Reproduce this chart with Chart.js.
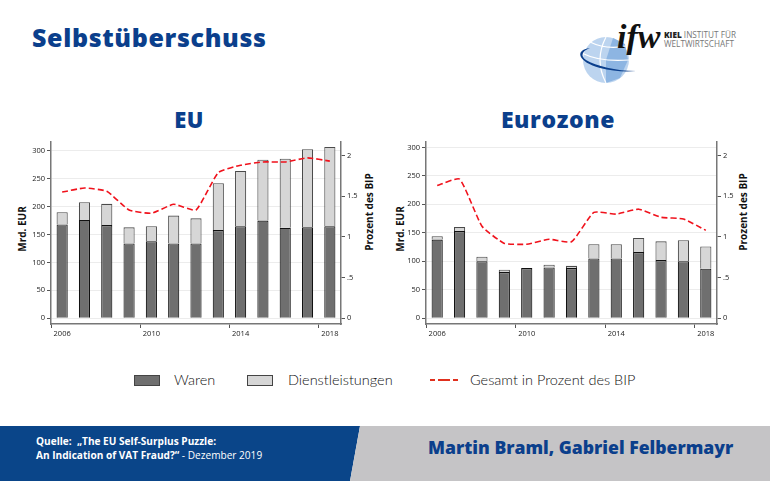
<!DOCTYPE html>
<html lang="de">
<head>
<meta charset="utf-8">
<title>Selbstüberschuss</title>
<script src="https://cdn.jsdelivr.net/npm/chart.js@4"></script>
<style>
    html, body { margin: 0; padding: 0; background: #fff; }
    body { position: relative; width: 770px; height: 481px; overflow: hidden; font-family: "Open Sans", sans-serif; }
    .abs { position: absolute; white-space: nowrap; }
    canvas.chart { position: absolute; }
    .heading { color: #0b3f8c; font-weight: 800; font-family: "Open Sans", sans-serif; }
    .axis-title { font-size: 10px; font-weight: 700; color: #111; transform: translate(-50%, -50%) rotate(-90deg); }
    .legend-text { font-family: Lato, sans-serif; font-size: 14.5px; font-weight: 300; color: #111; }
    .swatch { position: absolute; width: 24px; height: 9px; border: 1px solid #444; }
    #footer-blue { position: absolute; left: 0; top: 426px; width: 360px; height: 55px; background: #0a4589; clip-path: polygon(0 0, 100% 0, 350px 100%, 0 100%); }
    #footer-grey { position: absolute; left: 350px; top: 426px; width: 420px; height: 55px; background: #c5c4c6; clip-path: polygon(10px 0, 100% 0, 100% 100%, 0 100%); }
</style>
</head>
<body>
<div class="abs heading" style="left:32px;top:20px;font-size:25px;letter-spacing:.65px;">Selbstüberschuss</div>

<svg class="abs" style="left:570px;top:15px;" width="190" height="70" viewBox="570 15 190 70">
    <circle cx="606" cy="60" r="23" fill="#bcd4ef"/>
    <path d="M613 38 L625 44 L628 60 L620 78 L606 83 L606 60 Z" fill="#8db5e2"/>
    <path d="M584 54 Q600 62 629 60 M590 42 Q606 50 626 46 M606 37 Q594 60 606 83" stroke="#fff" stroke-width="1.2" fill="none"/>
    <path d="M590 48 C574 50 578 62 600 68 C612 71 624 72 636 71 C616 71 596 66 586 60 C580 56 582 51 590 48 Z" fill="#0b3f8c"/>
    <text x="617" y="48" font-family="'Liberation Serif'" font-style="italic" font-weight="700" font-size="34" fill="#111">ifw</text>
    <text x="664" y="38" font-family="'Open Sans'" font-size="8.2" fill="#777"><tspan font-weight="800" fill="#222">KIEL</tspan> INSTITUT FÜR</text>
    <text x="664" y="47" font-family="'Open Sans'" font-size="8.2" fill="#777">WELTWIRTSCHAFT</text>
</svg>

<div class="abs heading" style="left:189px;top:119px;font-size:22px;letter-spacing:.5px;transform:translate(-50%,-50%);">EU</div>
<div class="abs heading" style="left:558px;top:119px;font-size:23px;letter-spacing:.6px;transform:translate(-50%,-50%);">Eurozone</div>

<div class="abs axis-title" style="left:22px;top:229px;">Mrd. EUR</div>
<div class="abs axis-title" style="left:369px;top:212px;">Prozent des BIP</div>
<div class="abs axis-title" style="left:400px;top:229px;">Mrd. EUR</div>
<div class="abs axis-title" style="left:743px;top:212px;">Prozent des BIP</div>

<canvas class="chart" id="chartEU" style="left:0;top:132px;" width="385" height="210"></canvas>
<canvas class="chart" id="chartEZ" style="left:385px;top:132px;" width="385" height="210"></canvas>

<div class="swatch" style="left:134px;top:375px;background:#6f6f6f;"></div>
<div class="abs legend-text" style="left:174px;top:371px;">Waren</div>
<div class="swatch" style="left:247px;top:375px;background:#d6d6d6;"></div>
<div class="abs legend-text" style="left:288px;top:371px;">Dienstleistungen</div>
<svg class="abs" style="left:430px;top:376px;" width="32" height="8"><line x1="0" y1="4" x2="32" y2="4" stroke="#e0301e" stroke-width="2.2" stroke-dasharray="5 3 12 3 5"/></svg>
<div class="abs legend-text" style="left:470px;top:371px;">Gesamt in Prozent des BIP</div>

<div id="footer-blue"></div>
<div id="footer-grey"></div>
<div class="abs" style="left:36px;top:434px;font-size:10.1px;line-height:14px;color:#fff;">
    <b>Quelle:&nbsp; „The EU Self-Surplus Puzzle:</b><br>
    <b>An Indication of VAT Fraud?“</b> - Dezember 2019
</div>
<div class="abs heading" style="left:428px;top:435px;font-size:17.6px;font-weight:800;">Martin Braml, Gabriel Felbermayr</div>

<script>
const years = ["2006", "2007", "2008", "2009", "2010", "2011", "2012", "2013", "2014", "2015", "2016", "2017", "2018"];
const shownYears = ["2006", "2010", "2014", "2018"];

const euWaren = [168, 176, 167, 134, 138, 134, 134, 158, 165, 175, 162, 163, 165];
const euDienst = [22, 32, 38, 29, 27, 50, 45, 84, 99, 109, 124, 140, 142];
const euGesamt = [1.55, 1.60, 1.56, 1.33, 1.29, 1.40, 1.33, 1.79, 1.88, 1.92, 1.92, 1.97, 1.93];

const ezWaren = [138, 153, 100, 81, 88, 89, 88, 105, 105, 116, 102, 100, 87];
const ezDienst = [6, 7, 8, 4, 0, 5, 4, 25, 25, 25, 33, 37, 39];
const ezGesamt = [1.63, 1.71, 1.13, 0.92, 0.91, 0.97, 0.94, 1.30, 1.28, 1.34, 1.24, 1.22, 1.08];

const eurTicks = [0, 50, 100, 150, 200, 250, 300];
const bipTicks = [0, 0.5, 1, 1.5, 2];
const bipLabels = ["0", ".5", "1", "1.5", "2"];

const tickFont = { family: "'Open Sans'", size: 7.5 };

function renderChart(id, waren, dienst, gesamt, eurMax, leftWidth, rightWidth) {
    new Chart(document.getElementById(id), {
        type: "bar",
        data: {
            labels: years,
            datasets: [
                { label: "Gesamt in Prozent des BIP", type: "line", data: gesamt, yAxisID: "y1", order: 0,
                  borderColor: "#f0121c", borderWidth: 1.6, borderDash: [6, 3], pointRadius: 0, tension: 0.15 },
                { label: "Waren", data: waren, yAxisID: "y", order: 1, stack: "a",
                  backgroundColor: "#6f6f6f", borderColor: "#111", borderWidth: 1.1 },
                { label: "Dienstleistungen", data: dienst, yAxisID: "y", order: 1, stack: "a",
                  backgroundColor: "#d6d6d6", borderColor: "#4a4a4a", borderWidth: 1.1 }
            ]
        },
        options: {
            responsive: false,
            animation: false,
            layout: { padding: { top: 10, left: 0, right: 0, bottom: 0 } },
            plugins: { legend: { display: false }, tooltip: { enabled: false } },
            datasets: { bar: { barPercentage: 0.5, categoryPercentage: 1 } },
            scales: {
                x: {
                    stacked: true,
                    border: { color: "#777", width: 1.5 },
                    grid: {
                        drawOnChartArea: false,
                        tickLength: 4,
                        tickColor: ctx => shownYears.includes(years[ctx.index]) ? "#555" : "transparent"
                    },
                    ticks: {
                        autoSkip: false, maxRotation: 0, padding: 1, color: "#222", font: tickFont,
                        callback: (value, i) => shownYears.includes(years[i]) ? years[i] : ""
                    },
                    afterFit: s => { s.height = 18; }
                },
                y: {
                    stacked: true,
                    min: -10.3,
                    max: eurMax,
                    border: { color: "#777", width: 1.5 },
                    grid: { color: "#ececec", tickColor: "#555", tickLength: 4, lineWidth: 1 },
                    ticks: { color: "#222", font: tickFont, padding: 2, includeBounds: false, stepSize: 50 },
                    afterBuildTicks: s => { s.ticks = eurTicks.map(value => ({ value })); },
                    afterFit: s => { s.width = leftWidth; }
                },
                y1: {
                    position: "right",
                    min: -0.07,
                    max: 2.165,
                    border: { color: "#777", width: 1.5 },
                    grid: { drawOnChartArea: false, tickColor: "#555", tickLength: 4 },
                    ticks: {
                        color: "#222", font: tickFont, padding: 2,
                        callback: value => bipLabels[bipTicks.indexOf(value)]
                    },
                    afterBuildTicks: s => { s.ticks = bipTicks.map(value => ({ value })); },
                    afterFit: s => { s.width = rightWidth; }
                }
            }
        }
    });
}

renderChart("chartEU", euWaren, euDienst, euGesamt, 315.8, 51, 44);
renderChart("chartEZ", ezWaren, ezDienst, ezGesamt, 309.5, 41, 53);
</script>
</body>
</html>
